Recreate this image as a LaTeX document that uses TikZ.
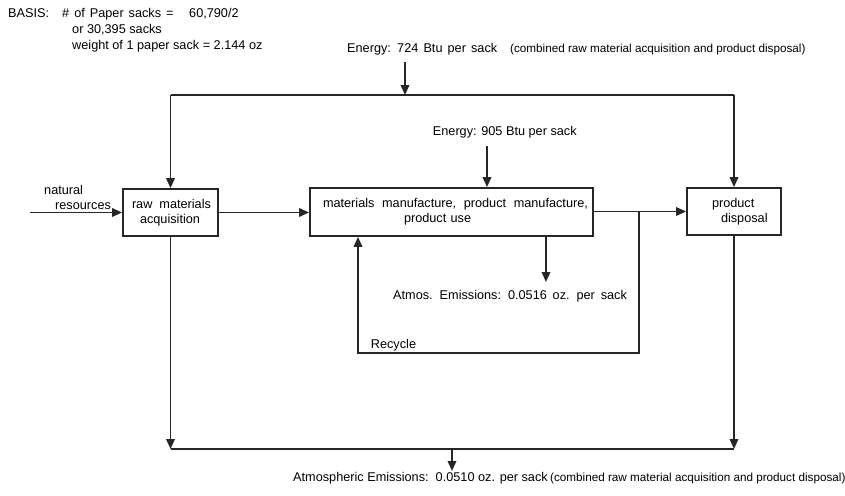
\documentclass[tikz,border=0pt]{standalone}
\usepackage{fontspec}
\setmainfont{Liberation Sans}
\usetikzlibrary{arrows.meta}
\begin{document}
\begin{tikzpicture}[x=1pt,y=-1pt,
  ln/.style={line width=1.8pt,draw=black!85},
  arr/.style={ln,-{Triangle[length=10pt,width=8.5pt]}},
  box/.style={draw=black!85,line width=1.8pt,inner xsep=0pt,inner ysep=0pt,
    align=left,font=\fontsize{12.7}{15}\selectfont},
  txt/.style={inner sep=0pt,anchor=base west,font=\fontsize{12.7}{14}\selectfont},
  txtc/.style={txt,font=\fontsize{11.7}{14}\selectfont}]
\useasboundingbox[fill=white] (0,0) rectangle (845,495);

% top-left basis text
\node[txt] (basis) at (8,18) {BASIS:};
\node[txt] (basis1) at (62,18) {\spaceskip=5pt\relax\# of Paper sacks =};
\node[txt] (basis2) at (189,18) {60,790/2};
\node[txt] (basis3) at (72,33.5) {or 30,395 sacks};
\node[txt] (basis4) at (72,49) {weight of 1 paper sack = 2.144 oz};

% boxes
\node[box,text width=95pt,minimum height=47pt] (raw) at (170.5,212.5)
  {\hspace*{9pt}{\spaceskip=7pt\relax raw materials}\\\hspace*{17pt}acquisition};
\node[box,text width=283pt,minimum height=48pt] (mid) at (451.5,212)
  {\hspace*{13pt}{\spaceskip=7.6pt\relax materials manufacture, product manufacture,}\\\hspace*{94pt}product use};
\node[box,text width=94pt,minimum height=47pt] (disp) at (734,211.5)
  {\hspace*{25pt}product\\\hspace*{34pt}disposal};

% texts
\node[txt] (e724) at (347,52.3) {\spaceskip=5.1pt\relax Energy: 724 Btu per sack};
\node[txtc] (e724b) at (510,52.3) {(combined raw material acquisition and product disposal)};
\node[txt] (e905) at (432.7,135) {Energy: 905 Btu per sack};
\node[txt] (nat) at (44,194) {natural};
\node[txt] (res) at (55,209) {resources};
\node[txt] (atm) at (393,299) {\spaceskip=5.8pt\relax Atmos. Emissions: 0.0516 oz. per sack};
\node[txt] (rec) at (370.7,348) {Recycle};
\node[txt] (atmb) at (293,481) {Atmospheric Emissions:\ \ 0.0510 oz. per sack};
\node[txtc] (atmb2) at (550,481) {(combined raw material acquisition and product disposal)};

% coordinates
\coordinate (nr) at (30,212.5);
\coordinate (e724s) at (405,62);
\coordinate (top) at (405,95);
\coordinate (tl) at (170.5,95);
\coordinate (tr) at (734,95);
\coordinate (e905s) at (487,146);
\coordinate (atms) at (546,282);
\coordinate (br) at (639,211.5);
\coordinate (brb) at (639,353);
\coordinate (rcb) at (358,353);
\coordinate (bl) at (170.5,449);
\coordinate (bm) at (452,449);
\coordinate (brr) at (734,449);
\coordinate (bme) at (452,471);

% connectors
\draw[arr] (nr) -- (raw.west);
\draw[arr] (raw.east) -- (raw.east -| mid.west);
\draw[arr] (mid.east |- disp.west) -- (disp.west);
\draw[arr] (e724s) -- (top);
\draw[ln] (tl) -- (tr);
\draw[arr] (tl) -- (raw.north);
\draw[arr] (tr) -- (disp.north);
\draw[arr] (e905s) -- (e905s |- mid.north);
\draw[arr] (atms |- mid.south) -- (atms);
\draw[arr] (br) -- (brb) -- (rcb) -- (rcb |- mid.south);
\draw[arr] (raw.south) -- (bl);
\draw[arr] (disp.south) -- (brr);
\draw[ln] (bl) -- (brr);
\draw[arr] (bm) -- (bme);
\end{tikzpicture}
\end{document}
